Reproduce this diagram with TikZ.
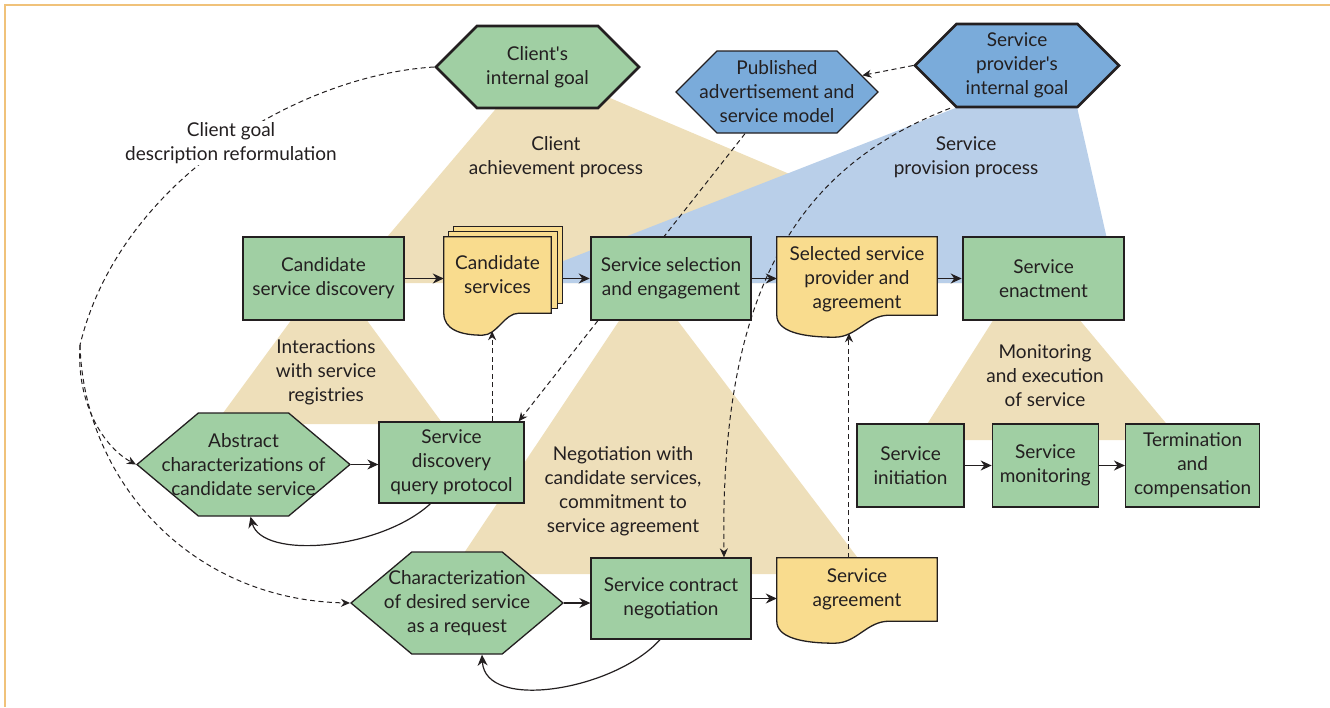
\documentclass[tikz,border=0pt]{standalone}
\usepackage{fontspec}
\setmainfont{Lato}
\usetikzlibrary{positioning,calc,shapes.symbols,arrows.meta}

\definecolor{boxgreen}{RGB}{160,207,163}
\definecolor{docyellow}{RGB}{249,220,142}
\definecolor{hexblue}{RGB}{122,171,218}
\definecolor{tanarea}{RGB}{238,223,186}
\definecolor{bluearea}{RGB}{185,207,233}
\definecolor{framecol}{RGB}{240,194,122}
\definecolor{inkcol}{RGB}{35,31,32}

\pgfdeclarelayer{back}
\pgfdeclarelayer{lines}
\pgfdeclarelayer{docs}
\pgfsetlayers{back,lines,docs,main}

\tikzset{
  every node/.style={font=\fontsize{19}{24}\selectfont, text=inkcol, align=center},
  mainbox/.style={draw=inkcol, line width=2.6pt, fill=boxgreen, minimum width=161pt, minimum height=83pt, inner sep=2pt},
  subbox/.style={draw=inkcol, line width=1.3pt, fill=boxgreen, minimum height=83pt, inner sep=2pt},
  docbox/.style={inner sep=2pt, minimum width=160pt},
  hexnode/.style={signal, signal to=east and west, inner xsep=-45pt, inner ysep=1pt},
  flow/.style={-{Stealth[length=11pt,width=10pt]}, line width=1.2pt, draw=inkcol},
  dashpath/.style={dash pattern=on 5pt off 3.5pt, line width=1pt, draw=inkcol},
  dashflow/.style={dashpath, -{Stealth[length=9pt,width=8pt]}},
}

% document outline behind a doc node, bottom raised by #1
\newcommand\docoutline[2][0]{%
  \coordinate (#2sw) at ($(#2.south west)+(0,-#1)$);
  \coordinate (#2se) at ($(#2.south east)+(0,-#1)$);
  \path[fill=docyellow, draw=inkcol, line width=1.3pt]
    (#2.north west) -- (#2.north east) -- (#2se)
    -- ($(#2sw)!0.7!(#2se)$)
    .. controls ($(#2sw)!0.56!(#2se)$) and ($(#2sw)!0.5!(#2se)+(0,22)$)
    .. ($(#2sw)!0.36!(#2se)+(0,22)$)
    .. controls ($(#2sw)!0.15!(#2se)+(0,22)$) and ($(#2sw)+(0,16)$)
    .. (#2sw) -- cycle;
  \coordinate (#2dip) at ($(#2sw)!0.45!(#2se)+(0,18)$);}

\begin{document}
\begin{tikzpicture}[x=1pt,y=-1pt]
\useasboundingbox (0,0) rectangle (1330,707);
\draw[framecol, line width=1.5pt] (5,707) -- (5,5) -- (1330,5);

% goals
\node[hexnode, draw=inkcol, line width=2.6pt, fill=boxgreen, minimum width=203pt, minimum height=82pt] (cg) at (537.5,67) {Client\textquotesingle s\\internal goal};
\node[hexnode, draw=inkcol, line width=1.3pt, fill=hexblue, minimum width=202pt, minimum height=82pt] (pub) at (777,92) {Published\\advertisement and\\service model};
\node[hexnode, draw=inkcol, line width=2.6pt, fill=hexblue, minimum width=204pt, minimum height=83pt] (prov) at (1017,65.5) {Service\\provider\textquotesingle s\\internal goal};

% main row
\node[mainbox] (disc) at (323.5,278.5) {Candidate\\service discovery};
\node[docbox, minimum width=107pt, minimum height=76pt] (cs) at (497.5,275) {Candidate\\services};
\node[mainbox, minimum width=160pt] (sel) at (671,278.5) {Service selection\\and engagement};
\node[docbox, minimum height=84pt] (ssp) at (857,279) {Selected service\\provider and\\agreement};
\node[mainbox] (enact) at (1043.5,278.5) {Service\\enactment};

% discovery steps
\node[hexnode, signal pointer angle=80, draw=inkcol, line width=1.3pt, fill=boxgreen, minimum width=213pt, minimum height=103pt] (ach) at (243.5,464.5) {Abstract\\characterizations of\\candidate service};
\node[subbox, minimum width=145pt, minimum height=81pt] (qp) at (451.5,462.5) {Service\\discovery\\query protocol};

% negotiation steps
\node[hexnode, signal pointer angle=80, draw=inkcol, line width=1.3pt, fill=boxgreen, minimum width=212pt, minimum height=102pt] (charq) at (457,603) {Characterization\\of desired service\\as a request};
\node[subbox, minimum width=160pt, minimum height=81pt] (neg) at (671,598.5) {Service contract\\negotiation};
\node[docbox, minimum height=63pt] (sa) at (857,589.5) {Service\\agreement};

% enactment steps
\node[subbox, minimum width=107pt] (sinit) at (910.5,465.5) {Service\\initiation};
\node[subbox, minimum width=106pt, right=27pt of sinit] (smon) {Service\\monitoring};
\node[subbox, minimum width=134pt, right=26pt of smon] (sterm) {Termination\\and\\compensation};

% process labels
\node (lclient) at (556,157) {Client\\achievement process};
\node (lprov) at (966,157) {Service\\provision process};
\node (lreg) at (326,372) {Interactions\\with service\\registries};
\node (lneg) at (623,491) {Negotiation with\\candidate services,\\commitment to\\service agreement};
\node (lmon) at (1045,376) {Monitoring\\and execution\\of service};
\node[fill=white, inner sep=1pt] (lref) at (231,143) {Client goal\\description reformulation};

% shaded process areas
\begin{pgfonlayer}{back}
  \fill[tanarea] (505,98) -- (610,98) -- (1047,283) -- (348,283) -- cycle;
  \fill[bluearea] (958,107) -- (1077,107) -- (1117,283) -- (507,283) -- cycle;
  \fill[tanarea] (306,300) -- (352,300) -- (443,424) -- (215,424) -- cycle;
  \fill[tanarea] (633,300) -- (662,300) -- (870,574) -- (450,574) -- cycle;
  \fill[tanarea] (1006,300) -- (1063,300) -- (1180,440) -- (917,440) -- cycle;
\end{pgfonlayer}

% documents
\begin{pgfonlayer}{docs}
  \draw[fill=docyellow, draw=inkcol, line width=1.2pt] ([shift={(10,-10)}]cs.north west) rectangle ([shift={(11,-10)}]cs.south east);
  \draw[fill=docyellow, draw=inkcol, line width=1.2pt] ([shift={(5,-5)}]cs.north west) rectangle ([shift={(6,-5)}]cs.south east);
  \docoutline{cs}
  \docoutline[6]{ssp}
  \docoutline{sa}
\end{pgfonlayer}

% connectors
\begin{pgfonlayer}{lines}
  \draw[flow] (disc.east) -- (disc.east -| cs.west);
  \draw[flow] ($(cs.east |- sel.west)+(11,0)$) -- (sel.west);
  \draw[flow] (sel.east) -- (sel.east -| ssp.west);
  \draw[flow] (ssp.east |- enact.west) -- (enact.west);
  \draw[flow] (ach.east) -- (ach.east -| qp.west);
  \draw[flow] (charq.east) -- (charq.east -| neg.west);
  \draw[flow] (neg.east) -- (neg.east -| sa.west);
  \draw[flow] (sinit) -- (smon);
  \draw[flow] (smon) -- (sterm);
  \draw[flow] ([xshift=-21pt]qp.south) .. controls (380,550) and (262,560) .. ([xshift=7pt]ach.south);
  \draw[flow] ([xshift=-11pt]neg.south) .. controls (615,690) and (485,712) .. ([xshift=25pt]charq.south);

  \draw[dashflow] (prov.west) -- (pub);
  \draw[dashflow] ([xshift=-32pt]pub.south) -- ([xshift=-6pt]qp.north east);
  \draw[dashflow] ([xshift=-67pt]prov.south) .. controls (790,170) and (720,300) .. ([xshift=53pt]neg.north);
  \draw[dashflow] (qp.north -| csdip) -- (csdip);
  \draw[dashflow] (sa.north -| sspdip) -- (sspdip);

  \coordinate (fork) at (80,345);
  \draw[dashpath] (cg.west) .. controls (300,75) and (120,180) .. (fork);
  \draw[dashflow] (fork) .. controls (76,405) and (105,448) .. (ach.west);
  \draw[dashflow] (fork) .. controls (84,480) and (190,600) .. (charq.west);
\end{pgfonlayer}
\end{tikzpicture}
\end{document}
